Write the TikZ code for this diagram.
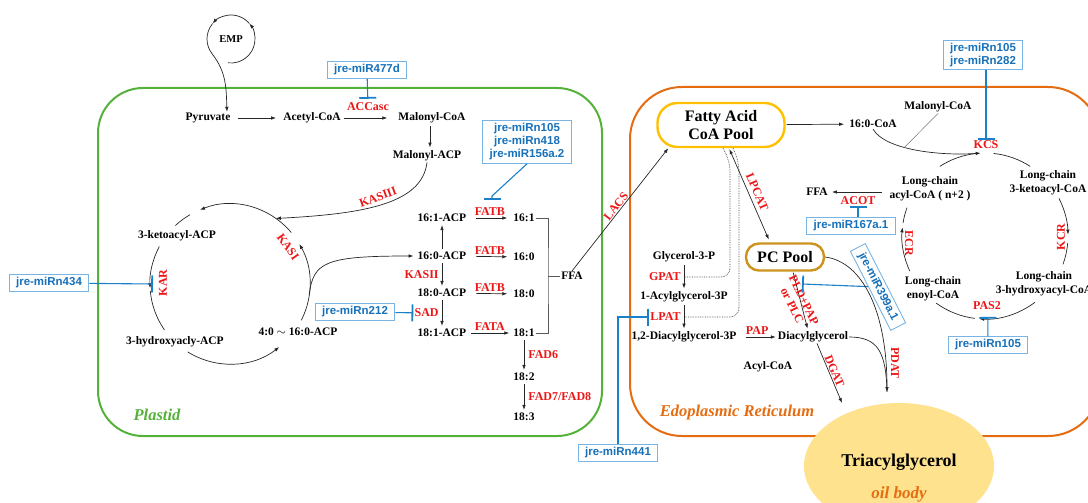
\documentclass[tikz,border=0pt]{standalone}
\usepackage{fontspec}
\setmainfont{Liberation Serif}
\setsansfont{Liberation Sans}
\usetikzlibrary{arrows.meta,shapes.geometric}
\definecolor{plastidgreen}{RGB}{84,178,58}
\definecolor{erorange}{RGB}{230,108,18}
\definecolor{enzred}{RGB}{236,22,22}
\definecolor{mirline}{RGB}{28,128,200}
\definecolor{mirtext}{RGB}{22,112,186}
\definecolor{mirframe}{RGB}{120,180,228}
\definecolor{poolyellow}{RGB}{255,192,0}
\definecolor{pcgold}{RGB}{204,148,30}
\definecolor{oilfill}{RGB}{254,226,142}
\tikzset{
  met/.style={font=\bfseries\fontsize{11.5}{14}\selectfont, inner sep=1pt, align=center},
  enz/.style={text=enzred, font=\bfseries\fontsize{12}{13}\selectfont, inner sep=1pt},
  mir/.style={draw=mirframe, line width=0.9pt, text=mirtext, font=\sffamily\bfseries\fontsize{11.5}{13}\selectfont, inner xsep=7pt, inner ysep=3pt, align=center},
  inhib/.style={draw=mirline, line width=1.1pt, -{Bar[width=17pt,line width=1.8pt]}},
  rxn/.style={draw=black!85, line width=0.7pt, -{Latex[length=5pt,width=3.6pt]}},
  rxnboth/.style={rxn, {Latex[length=5pt,width=3.6pt]}-{Latex[length=5pt,width=3.6pt]}},
  plain/.style={draw=black!85, line width=0.7pt},
  bracket/.style={draw=black!65, line width=1pt},
  dotline/.style={draw=black!75, densely dotted, line width=0.7pt},
  pool/.style={line width=2.4pt, rounded corners=20pt, font=\bfseries\fontsize{16}{18}\selectfont, align=center},
  region/.style={font=\bfseries\itshape\fontsize{16.5}{18}\selectfont},
}
\begin{document}
\begin{tikzpicture}[x=1pt,y=1pt]
\useasboundingbox (0,0) rectangle (1088,-503);

% compartments
\draw[plastidgreen, line width=2pt, rounded corners=45pt] (98,-88) rectangle (602,-436);
\draw[erorange, line width=2pt, rounded corners=52pt] (630,-87) rectangle (1100,-436);
\node[region, text=plastidgreen] (plastid) at (157,-415) {Plastid};
\node[region, text=erorange] (er) at (737,-413) {Edoplasmic Reticulum};

% glycolysis into the plastid
\coordinate (empc) at (231,-39);
\node[met, font=\bfseries\fontsize{10.5}{12}\selectfont] (emp) at (empc) {EMP};
\draw[rxn] (empc) ++(-97:24) arc[start angle=-97, end angle=40, radius=24];
\draw[rxn] (empc) ++(40:24) arc[start angle=40, end angle=140, radius=24];
\draw[plain] (empc) ++(140:24) arc[start angle=140, end angle=218, radius=24] coordinate (empout);
\node[met] (pyr) at (208,-118) {Pyruvate};
\node[met] (acoa) at (312,-118) {Acetyl-CoA};
\node[met] (mcoa) at (432,-118) {Malonyl-CoA};
\node[met] (macp) at (427,-156) {Malonyl-ACP};
\draw[rxn] (empout) to[out=-52,in=92] ([xshift=19pt]pyr.north);
\draw[rxn, shorten <=6pt, shorten >=6pt] (pyr) -- (acoa);
\draw[rxn, shorten <=2pt, shorten >=10pt] (acoa) -- (mcoa);
\node[enz] (accase) at (368,-107) {ACCasc};
\node[mir] (m477) at (367,-70) {jre-miR477d};
\draw[inhib, shorten >=3pt] (m477) -- (accase);
\draw[rxn, shorten <=2pt, shorten >=2pt] ([xshift=-2pt]mcoa.south) -- ([xshift=-2pt]mcoa.south |- macp.north);

% fatty acid synthesis cycle
\coordinate (cyc) at (230,-284);
\draw[rxn] ([shift={(-27:80)}]cyc) arc[start angle=-27, end angle=30, radius=80];
\draw[rxn] ([shift={(40:80)}]cyc) arc[start angle=40, end angle=112, radius=80];
\draw[plain] ([shift={(120:80)}]cyc) arc[start angle=120, end angle=133, radius=80];
\draw[rxn] ([shift={(152:80)}]cyc) arc[start angle=152, end angle=183, radius=80];
\draw[plain] ([shift={(185:80)}]cyc) arc[start angle=185, end angle=215, radius=80];
\draw[rxn] ([shift={(238:80)}]cyc) arc[start angle=238, end angle=308, radius=80];
\node[met] (ketoacp) at (177,-236) {3-ketoacyl-ACP};
\node[met] (hydacp) at (175,-342) {3-hydroxyacly-ACP};
\node[met] (shortacp) at (298,-332) {4:0 $\sim$ 16:0-ACP};
\node[enz, rotate=90] (kar) at (163,-283) {KAR};
\node[enz, rotate=-55] (kasi) at (288,-247) {KASI};
\node[mir] (m434) at (49,-283) {jre-miRn434};
\coordinate (karbar) at ([shift={(180:77)}]cyc);
\draw[inhib] (m434) -- (karbar);
\coordinate (kasin) at ([shift={(55:80)}]cyc);
\draw[rxn] (macp.south) .. controls (422,-205) and (360,-214) .. (kasin);
\node[enz, rotate=20] (kasiii) at (378,-197) {KASIII};

% elongation and desaturation
\node[met] (acp161) at (442,-218) {16:1-ACP};
\node[met] (acp160) at (442,-256) {16:0-ACP};
\node[met] (acp180) at (442,-293) {18:0-ACP};
\node[met] (acp181) at (442,-333) {18:1-ACP};
\coordinate (cycout) at ([shift={(-8:80)}]cyc);
\draw[rxn, shorten >=3pt] (cycout) .. controls (313,-262) and (325,-256) .. (acp160.west);
\draw[rxn, shorten <=2pt, shorten >=2pt] (acp160) -- (acp161);
\draw[rxn, shorten <=2pt, shorten >=2pt] (acp160) -- (acp180) node[enz, midway, left=2pt] {KASII};
\draw[rxn, shorten <=2pt, shorten >=2pt] (acp180) -- (acp181) node[enz, midway, left=2pt] (sad) {SAD};
\node[mir] (m212) at (355,-312) {jre-miRn212};
\draw[inhib] (m212) -- (sad);
\node[met] (fa161) at (524,-218) {16:1};
\node[met] (fa160) at (524,-257) {16:0};
\node[met] (fa180) at (524,-294) {18:0};
\node[met] (fa181) at (524,-333) {18:1};
\node[met] (fa182) at (524,-377) {18:2};
\node[met] (fa183) at (524,-417) {18:3};
\draw[rxn, shorten <=9pt, shorten >=5pt] (acp161) -- (fa161) node[enz, midway, above=1pt] (fatbi) {FATB};
\draw[rxn, shorten <=9pt, shorten >=5pt] (acp160) -- (fa160) node[enz, midway, above=1pt] {FATB};
\draw[rxn, shorten <=9pt, shorten >=5pt] (acp180) -- (fa180) node[enz, midway, above=1pt] {FATB};
\draw[rxn, shorten <=4pt, shorten >=3pt] (acp181) -- (fa181) node[enz, midway, above=1pt] {FATA};
\draw[rxn, shorten <=2pt, shorten >=2pt] (fa181) -- (fa182) node[enz, midway, right=3pt] {FAD6};
\draw[rxn, shorten <=2pt, shorten >=2pt] (fa182) -- (fa183) node[enz, midway, right=3pt] {FAD7/FAD8};
\node[mir] (m105a) at (527,-142) {jre-miRn105\\jre-miRn418\\jre-miR156a.2};
\coordinate (fatbbar) at (492,-200);
\draw[inhib] (m105a.south) -- ([yshift=4pt]fatbbar) -- (fatbbar);
\node[met] (ffa) at (572,-276) {FFA};
\coordinate (ffajoin) at (548,-276);
\draw[bracket] (fa161.east) -| (ffajoin) |- (fa181.east);
\draw[bracket] (ffajoin) -- (ffa);

% export to the ER
\node[pool, draw=poolyellow, minimum width=127pt, minimum height=44pt] (fapool) at (721,-125) {Fatty Acid\\CoA Pool};
\draw[rxn] (ffa.north) -- ([xshift=12pt]fapool.south west) node[enz, midway, sloped, above] {LACS};

% ER elongation cycle
\node[met] (c160coa) at (873,-124) {16:0-CoA};
\draw[rxn, shorten <=1pt, shorten >=4pt] (fapool) -- (c160coa);
\node[met] (ermcoa) at (938,-107) {Malonyl-CoA};
\coordinate (ercyc) at (985,-236);
\coordinate (kcsin) at ([shift={(93:83)}]ercyc);
\draw[rxn] (c160coa.south) .. controls (885,-150) and (940,-156) .. (kcsin) coordinate[pos=0.4] (mjoin);
\draw[draw=black!55, line width=0.5pt] (ermcoa.south) -- (mjoin);
\draw[plain] ([shift={(123:83)}]ercyc) arc[start angle=123, end angle=97, radius=83];
\draw[plain] ([shift={(84:83)}]ercyc) arc[start angle=84, end angle=57, radius=83];
\draw[rxn] ([shift={(27:83)}]ercyc) arc[start angle=27, end angle=1, radius=83];
\draw[plain] ([shift={(-5:83)}]ercyc) arc[start angle=-5, end angle=-20, radius=83];
\draw[rxn] ([shift={(-53:83)}]ercyc) arc[start angle=-53, end angle=-94, radius=83];
\draw[plain] ([shift={(-97:83)}]ercyc) arc[start angle=-97, end angle=-126, radius=83];
\draw[rxn] ([shift={(205:83)}]ercyc) arc[start angle=205, end angle=174, radius=83];
\draw[plain] ([shift={(171:83)}]ercyc) arc[start angle=171, end angle=160, radius=83];
\node[met] (lcacyl) at (930,-189) {Long-chain\\acyl-CoA ( n+2 )};
\node[met] (lcketo) at (1048,-183) {Long-chain\\3-ketoacyl-CoA};
\node[met] (lchyd) at (1044,-284) {Long-chain\\3-hydroxyacyl-CoA};
\node[met] (lcenoyl) at (933,-289) {Long-chain\\enoyl-CoA};
\node[enz] (kcs) at (986,-145) {KCS};
\node[mir] (m282) at (983,-55) {jre-miRn105\\jre-miRn282};
\draw[inhib] (m282.south -| kcs) -- (kcs);
\node[enz, rotate=90] (kcr) at (1061,-237) {KCR};
\node[enz] (pas2) at (987,-306) {PAS2};
\node[mir] (m105c) at (988,-345) {jre-miRn105};
\coordinate (pasbar) at ([shift={(-88:81)}]ercyc);
\draw[inhib] (m105c) -- (pasbar);
\node[enz, rotate=-90] (ecr) at (909,-243) {ECR};
\node[met] (erffa) at (817,-192) {FFA};
\draw[rxn, shorten <=6pt, shorten >=3pt] (lcacyl.west |- erffa) -- (erffa);
\node[enz] (acot) at (858,-201) {ACOT};
\node[mir] (m167) at (851,-226) {jre-miR167a.1};
\draw[inhib] (m167.north -| acot) -- (acot);

% Kennedy pathway
\node[pool, draw=pcgold, minimum width=78pt, minimum height=27pt, rounded corners=13pt] (pcpool) at (785,-257) {PC Pool};
\draw[rxnboth, shorten <=1pt, shorten >=3pt] ([xshift=8pt]fapool.south) -- ([xshift=-15pt]pcpool.north) node[enz, midway, sloped, above=3pt] {LPCAT};
\node[met] (g3p) at (684,-257) {Glycerol-3-P};
\node[met] (acylg3p) at (684,-297) {1-Acylglycerol-3P};
\node[met] (dag3p) at (684,-337) {1,2-Diacylglycerol-3P};
\draw[rxn, shorten <=2pt, shorten >=2pt] (g3p) -- (acylg3p) coordinate[midway] (gpatmid) node[enz, midway, left=2pt] {GPAT};
\draw[rxn, shorten <=2pt, shorten >=2pt] (acylg3p) -- (dag3p) coordinate[midway] (lpatmid) node[enz, midway, left=2pt] (lpat) {LPAT};
\draw[dotline, rounded corners=9pt] ([xshift=2pt]fapool.south) -- ++(7,-14) |- (gpatmid);
\draw[dotline, rounded corners=9pt] ([xshift=12pt]fapool.south) -- ++(6,-14) |- (lpatmid);
\node[mir] (m441) at (618,-453) {jre-miRn441};
\draw[inhib] (m441.north) |- (lpat.west);
\node[met] (dag) at (813,-337) {Diacylglycerol};
\draw[rxn, shorten <=8pt, shorten >=1pt] (dag3p) -- (dag) node[enz, midway, above=1pt] {PAP};
\node[met] (acylcoa) at (768,-367) {Acyl-CoA};
\draw[rxn, shorten <=1pt, shorten >=2pt] ([xshift=8pt]pcpool.south) -- ([xshift=-5pt]dag.north);
\node[enz, rotate=-64, align=center] (pld) at (798,-303) {PLD+PAP\\or PLC};
\node[mir, rotate=-63] (m399) at (878,-287) {jre-miR399a.1};
\coordinate (pldbar) at (802,-284);
\draw[inhib] (m399) -- (pldbar);

% towards the oil body
\node[ellipse, fill=oilfill, minimum width=190pt, minimum height=126pt, inner sep=0pt] (oilbody) at (899,-466) {};
\node[font=\bfseries\fontsize{18}{20}\selectfont] (tag) at (899,-462) {Triacylglycerol};
\node[text=erorange, font=\bfseries\itshape\fontsize{17}{19}\selectfont] (oiltag) at (899,-494) {oil body};
\coordinate (dgatend) at (842,-403);
\draw[rxn] ([xshift=4pt]dag.south) -- (dgatend) node[enz, midway, sloped, above] {DGAT};
\coordinate (pdatend) at (887,-392);
\draw[rxn] (pcpool.east) .. controls (862,-262) and (887,-310) .. (pdatend);
\draw[plain] (dag.east) .. controls (878,-337) and (886,-352) .. (pdatend);
\node[enz, rotate=-90] (pdat) at (895,-363) {PDAT};
\end{tikzpicture}
\end{document}
